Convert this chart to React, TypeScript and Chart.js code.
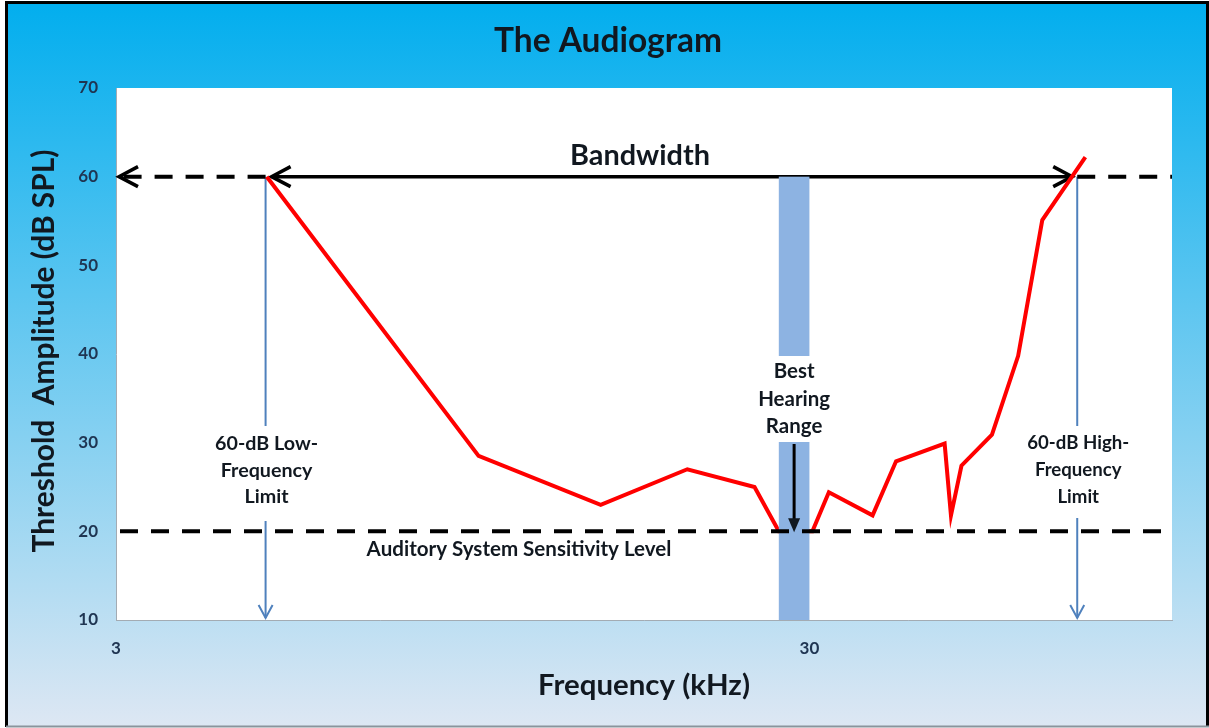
import React, { useEffect, useRef } from "react";
import { Chart, registerables } from "chart.js";

Chart.register(...registerables);

// ---- data ----
const frequencies = [4.95, 10, 15, 20, 25, 27.1, 30.3, 32, 37, 40, 47, 48, 49.7, 55, 60, 65, 75];
const thresholds = [60, 28.5, 23, 27, 25, 20, 20, 24.4, 21.8, 27.9, 29.9, 21.8, 27.4, 30.9, 39.8, 55.1, 62.2];
const xTickValues = [3, 30];
const yTickValues = [10, 20, 30, 40, 50, 60, 70];
const bandwidthLevel = 60;
const sensitivityLevel = 20;
const lowLimitFreq = 4.93;
const highLimitFreq = 73;
const bestRangeFreqs = [27.1, 30];

const titleText = "The Audiogram";
const xTitle = "Frequency (kHz)";
const yTitle = "Threshold  Amplitude (dB SPL)";
const bandwidthText = "Bandwidth";
const sensitivityText = "Auditory System Sensitivity Level";
const lowLimitText = ["60-dB Low-", "Frequency", "Limit"];
const highLimitText = ["60-dB High-", "Frequency", "Limit"];
const bestRangeText = ["Best", "Hearing", "Range"];

const FAMILY = "Lato, 'Open Sans', sans-serif";
const TEXT = "#111820";
const TICK = "#1F3552";
const BLUE_LINE = "#4F81BD";
const BLUE_BAR = "#8DB3E2";

function fitFont(ctx: CanvasRenderingContext2D, text: string, target: number) {
  ctx.font = `bold 100px ${FAMILY}`;
  const w = ctx.measureText(text).width;
  const size = (100 * target) / w;
  return `bold ${size.toFixed(2)}px ${FAMILY}`;
}

function chevron(ctx: CanvasRenderingContext2D, tx: number, ty: number, dx: number, dy: number, len: number, spread: number) {
  const px = -dy, py = dx;
  ctx.beginPath();
  ctx.moveTo(tx - dx * len + px * spread, ty - dy * len + py * spread);
  ctx.lineTo(tx, ty);
  ctx.lineTo(tx - dx * len - px * spread, ty - dy * len - py * spread);
  ctx.stroke();
}

const decor = {
  id: "decor",
  beforeDraw(chart: any) {
    const { ctx, width, height, chartArea: a } = chart;
    ctx.save();
    ctx.fillStyle = "#ffffff";
    ctx.fillRect(0, 0, width, height);
    const g = ctx.createLinearGradient(0, 3, 0, 726);
    g.addColorStop(0, "#02AEEE");
    g.addColorStop(1, "#DDE7F3");
    ctx.fillStyle = g;
    ctx.fillRect(7, 3, 1200, 723);
    ctx.strokeStyle = "#000";
    ctx.lineWidth = 3;
    ctx.beginPath();
    ctx.moveTo(6.5, 727);
    ctx.lineTo(6.5, 2.5);
    ctx.lineTo(1207.5, 2.5);
    ctx.lineTo(1207.5, 727);
    ctx.stroke();
    ctx.strokeStyle = "#8A949C";
    ctx.lineWidth = 2;
    ctx.beginPath();
    ctx.moveTo(6, 726.5);
    ctx.lineTo(1209, 726.5);
    ctx.stroke();
    ctx.fillStyle = "#ffffff";
    ctx.fillRect(a.left, a.top, a.right - a.left, a.bottom - a.top);
    ctx.restore();
  },
  beforeDatasetsDraw(chart: any) {
    const { ctx, chartArea: a, scales } = chart;
    const x = scales.x, y = scales.y;
    const yBand = y.getPixelForValue(bandwidthLevel);
    const xLow = x.getPixelForValue(lowLimitFreq);
    const xHigh = x.getPixelForValue(highLimitFreq);
    ctx.save();
    // vertical blue limit arrows
    ctx.strokeStyle = BLUE_LINE;
    ctx.lineWidth = 2;
    [xLow, xHigh].forEach((px) => {
      ctx.beginPath();
      ctx.moveTo(px, yBand);
      ctx.lineTo(px, a.bottom - 2);
      ctx.stroke();
      chevron(ctx, px, a.bottom - 2, 0, 1, 13, 7);
    });

    // dashed 60 dB line parts
    ctx.strokeStyle = "#000";
    ctx.lineWidth = 4;
    ctx.setLineDash([18, 13]);
    ctx.beginPath();
    ctx.moveTo(xLow, yBand);
    ctx.lineTo(a.left + 4, yBand);
    ctx.stroke();
    ctx.beginPath();
    ctx.moveTo(xHigh, yBand);
    ctx.lineTo(a.right, yBand);
    ctx.stroke();
    ctx.setLineDash([]);
    ctx.lineWidth = 3.5;
    chevron(ctx, a.left + 3, yBand, -1, 0, 19, 10);

    // bandwidth arrow
    ctx.beginPath();
    ctx.moveTo(xLow + 6, yBand);
    ctx.lineTo(xHigh - 5, yBand);
    ctx.stroke();
    chevron(ctx, xLow + 6, yBand, -1, 0, 19, 10);
    chevron(ctx, xHigh - 5, yBand, 1, 0, 19, 10);
    ctx.restore();
  },
  afterDatasetsDraw(chart: any) {
    const { ctx, chartArea: a, scales } = chart;
    const x = scales.x, y = scales.y;
    const yBand = y.getPixelForValue(bandwidthLevel);
    const ySens = y.getPixelForValue(sensitivityLevel);
    const xLow = x.getPixelForValue(lowLimitFreq);
    const xHigh = x.getPixelForValue(highLimitFreq);
    const b0 = x.getPixelForValue(bestRangeFreqs[0]);
    const b1 = x.getPixelForValue(bestRangeFreqs[1]);
    const xBest = (b0 + b1) / 2;
    ctx.save();
    // best hearing range bar
    ctx.fillStyle = BLUE_BAR;
    ctx.fillRect(b0, yBand, b1 - b0, a.bottom - yBand);

    // sensitivity dashed line
    ctx.strokeStyle = "#000";
    ctx.lineWidth = 4;
    ctx.setLineDash([18, 13]);
    ctx.beginPath();
    ctx.moveTo(a.left + 4, ySens);
    ctx.lineTo(a.right, ySens);
    ctx.stroke();
    ctx.setLineDash([]);

    // white boxes
    ctx.fillStyle = "#ffffff";
    ctx.fillRect(xLow - 55, 426, 110, 95);
    ctx.fillRect(xHigh - 55, 426, 110, 92);
    ctx.fillRect(xBest - 38, 356, 76, 86);

    ctx.fillStyle = TEXT;
    ctx.textAlign = "center";
    ctx.textBaseline = "alphabetic";

    // best range text + arrow
    ctx.font = fitFont(ctx, bestRangeText[1], 72);
    bestRangeText.forEach((t, i) => ctx.fillText(t, xBest, 378 + i * 27.5));
    ctx.strokeStyle = "#000";
    ctx.lineWidth = 3;
    ctx.beginPath();
    ctx.moveTo(xBest, 444);
    ctx.lineTo(xBest, ySens - 10);
    ctx.stroke();
    ctx.beginPath();
    ctx.moveTo(xBest - 6, ySens - 13);
    ctx.lineTo(xBest + 6, ySens - 13);
    ctx.lineTo(xBest, ySens + 1);
    ctx.closePath();
    ctx.fill();

    // limit texts
    ctx.font = fitFont(ctx, lowLimitText[0], 103);
    lowLimitText.forEach((t, i) => ctx.fillText(t, xLow + 1, 450 + i * 26.7));
    ctx.font = fitFont(ctx, highLimitText[0], 102);
    highLimitText.forEach((t, i) => ctx.fillText(t, xHigh + 1, 449 + i * 27));

    // sensitivity
    ctx.font = fitFont(ctx, sensitivityText, 305);
    ctx.fillText(sensitivityText, 519, 556);

    // bandwidth
    ctx.font = fitFont(ctx, bandwidthText, 140);
    ctx.fillText(bandwidthText, 640, 165);

    // chart title and axis titles
    ctx.font = fitFont(ctx, titleText, 228);
    ctx.fillText(titleText, 608, 52);
    ctx.font = fitFont(ctx, xTitle, 212);
    ctx.fillText(xTitle, 644, 695);
    ctx.save();
    ctx.translate(54, 351);
    ctx.rotate(-Math.PI / 2);
    ctx.font = fitFont(ctx, yTitle, 403);
    ctx.fillText(yTitle, 0, 0);
    ctx.restore();
    ctx.restore();
  },
};

export default function App() {
  const ref = useRef<HTMLCanvasElement | null>(null);
  useEffect(() => {
    document.body.style.margin = "0";
    document.body.style.overflow = "hidden";
    const canvas = ref.current;
    if (!canvas) return;
    const tickFont = { family: FAMILY, size: 17, weight: "bold" as const };
    const chart = new Chart(canvas, {
      type: "line",
      data: {
        datasets: [
          {
            data: frequencies.map((f, i) => ({ x: f, y: thresholds[i] })),
            borderColor: "#FF0000",
            borderWidth: 4,
            pointRadius: 0,
            tension: 0,
            fill: false,
          },
        ],
      },
      options: {
        responsive: false,
        animation: false,
        devicePixelRatio: 1,
        layout: { padding: { top: 88, right: 37, bottom: 0, left: 0 } },
        plugins: {
          legend: { display: false },
          title: { display: false },
          tooltip: { enabled: false },
        },
        scales: {
          x: {
            type: "logarithmic",
            min: 3,
            max: 100,
            afterBuildTicks: (s: any) => {
              s.ticks = xTickValues.map((v) => ({ value: v }));
            },
            afterFit: (s: any) => {
              s.height = 108;
            },
            grid: { display: false, drawTicks: false },
            border: { display: true, color: "#A3ABB3", width: 1 },
            ticks: {
              padding: 18,
              autoSkip: false,
              maxRotation: 0,
              color: TICK,
              font: tickFont,
              callback: (v: any) => String(v),
            },
          },
          y: {
            type: "linear",
            min: 10,
            max: 70,
            afterBuildTicks: (s: any) => {
              s.ticks = yTickValues.map((v) => ({ value: v }));
            },
            afterFit: (s: any) => {
              s.width = 116;
            },
            grid: { display: false, drawTicks: false },
            border: { display: true, color: "#A3ABB3", width: 1 },
            ticks: {
              padding: 18,
              color: TICK,
              font: tickFont,
              callback: (v: any) => String(v),
            },
          },
        },
      },
      plugins: [decor],
    });
    return () => chart.destroy();
  }, []);
  return <canvas ref={ref} width={1209} height={728} style={{ display: "block", width: 1209, height: 728 }} />;
}
